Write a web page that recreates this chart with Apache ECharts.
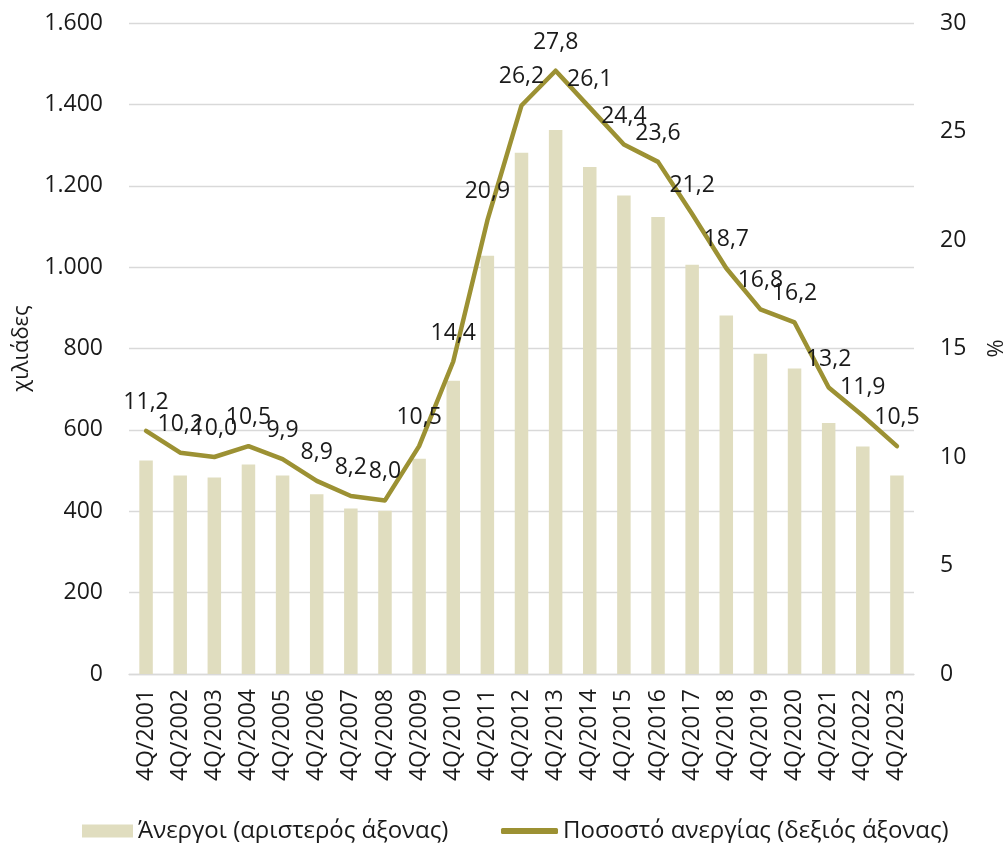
<!DOCTYPE html>
<html>
<head>
<meta charset="utf-8">
<script src="https://cdn.jsdelivr.net/npm/echarts@6/dist/echarts.min.js"></script>
<style>
html,body{margin:0;padding:0;background:#fff;overflow:hidden;width:1004px;height:843px;}
#chart{width:1004px;height:843px;position:absolute;left:0;top:0;}
</style>
</head>
<body>
<div id="chart"></div>
<script>
const categories = ['4Q/2001','4Q/2002','4Q/2003','4Q/2004','4Q/2005','4Q/2006','4Q/2007','4Q/2008','4Q/2009','4Q/2010','4Q/2011','4Q/2012','4Q/2013','4Q/2014','4Q/2015','4Q/2016','4Q/2017','4Q/2018','4Q/2019','4Q/2020','4Q/2021','4Q/2022','4Q/2023'];
const unemployed = [525, 488, 483, 515, 488, 442, 407, 401, 529, 721, 1028, 1281, 1337, 1246, 1176, 1123, 1006, 881, 787, 751, 617, 559, 488];
const unemploymentRate = [11.2, 10.2, 10.0, 10.5, 9.9, 8.9, 8.2, 8.0, 10.5, 14.4, 20.9, 26.2, 27.8, 26.1, 24.4, 23.6, 21.2, 18.7, 16.8, 16.2, 13.2, 11.9, 10.5];
const barName = 'Άνεργοι (αριστερός άξονας)';
const lineName = 'Ποσοστό ανεργίας (δεξιός άξονας)';
const leftAxisName = 'χιλιάδες';
const rightAxisName = '%';

const FONT = 'Open Sans';
const TXT = '#1a1a1a';
const BAR_COLOR = '#E0DDBF';
const LINE_COLOR = '#9C9133';

const chart = echarts.init(document.getElementById('chart'), null, {renderer: 'canvas', width: 1004, height: 843});
const option = {
  animation: false,
  backgroundColor: '#ffffff',
  textStyle: {fontFamily: FONT, color: TXT},
  grid: {left: 129, right: 90, top: 23, bottom: 169, containLabel: false, outerBoundsMode: 'none'},
  legend: [
    {
      data: [{name: barName, icon: 'rect'}],
      left: 77, top: 813,
      itemWidth: 51, itemHeight: 13,
      textStyle: {fontFamily: FONT, fontSize: 24, color: TXT, lineHeight: 26}
    },
    {
      data: [{name: lineName, icon: 'roundRect'}],
      left: 496, top: 813,
      itemWidth: 57, itemHeight: 6,
      textStyle: {fontFamily: FONT, fontSize: 24, color: TXT, lineHeight: 26}
    }
  ],
  xAxis: {
    type: 'category',
    data: categories,
    axisLine: {show: true, lineStyle: {color: '#d9d9d9', width: 1.3}},
    axisTick: {show: false},
    axisLabel: {
      rotate: 90, interval: 0, margin: 15,
      fontFamily: FONT, fontSize: 23, color: TXT
    }
  },
  yAxis: [
    {
      type: 'value', min: 0, max: 1600, interval: 200,
      name: leftAxisName, nameLocation: 'middle', nameGap: 96, nameRotate: 90,
      nameTextStyle: {fontFamily: FONT, fontSize: 22, color: TXT},
      axisLine: {show: false}, axisTick: {show: false},
      axisLabel: {
        margin: 26, fontFamily: FONT, fontSize: 23, color: TXT,
        formatter: v => String(v).replace(/\B(?=(\d{3})+(?!\d))/g, '.')
      },
      splitLine: {show: true, lineStyle: {color: '#d9d9d9', width: 1.3}}
    },
    {
      type: 'value', min: 0, max: 30, interval: 5, position: 'right',
      name: rightAxisName, nameLocation: 'middle', nameGap: 72, nameRotate: 90,
      nameTextStyle: {fontFamily: FONT, fontSize: 22, color: TXT},
      axisLine: {show: false}, axisTick: {show: false},
      axisLabel: {margin: 26, fontFamily: FONT, fontSize: 23, color: TXT},
      splitLine: {show: false}
    }
  ],
  series: [
    {
      name: barName, type: 'bar', yAxisIndex: 0,
      data: unemployed, barWidth: 13.5,
      itemStyle: {color: BAR_COLOR}
    },
    {
      name: lineName, type: 'line', yAxisIndex: 1,
      data: unemploymentRate,
      symbol: 'circle', symbolSize: 0.1, showSymbol: true, smooth: false, z: 5,
      lineStyle: {color: LINE_COLOR, width: 4.5, cap: 'round', join: 'round'},
      itemStyle: {color: LINE_COLOR},
      label: {
        show: true, position: 'top', distance: 17,
        fontFamily: FONT, fontSize: 23, color: TXT,
        formatter: p => p.value.toFixed(1).replace('.', ',')
      },
      labelLayout: {hideOverlap: false}
    }
  ]
};
chart.setOption(option);
</script>
</body>
</html>
